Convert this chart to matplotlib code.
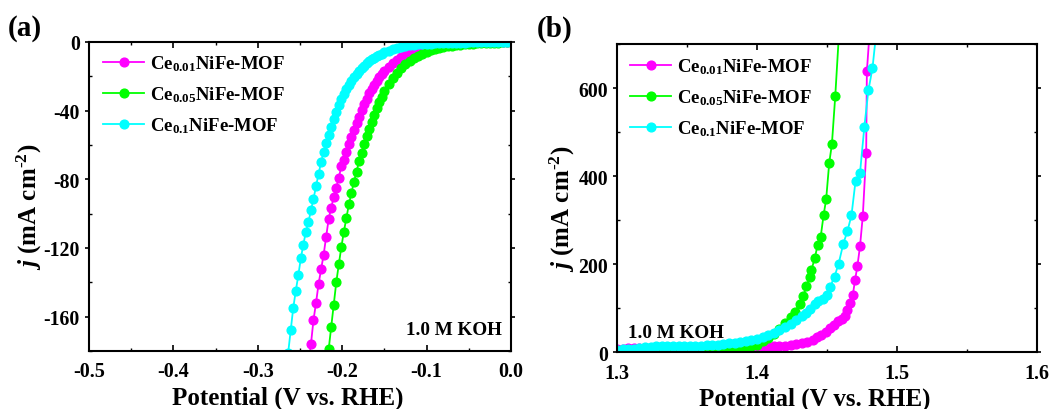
import matplotlib
matplotlib.use('Agg')
import matplotlib.pyplot as plt
from matplotlib.ticker import MultipleLocator, FormatStrFormatter

plt.rcParams['font.family'] = 'Liberation Serif'
plt.rcParams['font.weight'] = 'bold'
plt.rcParams['axes.labelweight'] = 'bold'
plt.rcParams['axes.unicode_minus'] = False
plt.rcParams['mathtext.fontset'] = 'custom'
plt.rcParams['mathtext.rm'] = 'Liberation Serif:bold'
plt.rcParams['mathtext.it'] = 'Liberation Serif:italic:bold'
plt.rcParams['mathtext.bf'] = 'Liberation Serif:bold'
plt.rcParams['mathtext.default'] = 'bf'

labels = [r'Ce$_{0.01}$NiFe-MOF', r'Ce$_{0.05}$NiFe-MOF', r'Ce$_{0.1}$NiFe-MOF']
colors = ['#FF00FF', '#00FF00', '#00FFFF']

# (a) HER polarisation, potential grid shared by the three curves (tail aligned)
E_her = [-0.267, -0.264, -0.261, -0.258, -0.255, -0.252, -0.249, -0.246, -0.243, -0.240,
         -0.237, -0.234, -0.231, -0.228, -0.225, -0.222, -0.219, -0.216, -0.213, -0.210,
         -0.207, -0.204, -0.201, -0.198, -0.195, -0.192, -0.189, -0.186, -0.183, -0.180,
         -0.177, -0.174, -0.171, -0.168, -0.165, -0.162, -0.159, -0.156, -0.153, -0.150,
         -0.145, -0.140, -0.135, -0.130, -0.125, -0.120, -0.115, -0.110, -0.105, -0.100,
         -0.095, -0.090, -0.085, -0.080, -0.075, -0.070, -0.065, -0.060, -0.055, -0.050,
         -0.045, -0.040, -0.035, -0.030, -0.025, -0.020, -0.015, -0.010, -0.005, 0.000]

j_her_001 = [-188, -176, -162, -152, -141, -132.5, -124, -113.5, -103, -96.5,
             -90.5, -84.8, -79, -72.5, -68.5, -64, -59.5, -55.5, -51, -47,
             -43.5, -39.8, -36.3, -33, -30, -27.3, -24.8, -22.5, -20.5, -18.6, -17,
             -14.3, -12.1, -10.3, -8.8, -7.3, -6.0, -4.9, -4.0, -3.2, -2.6,
             -2.1, -1.7, -1.35, -1.05, -0.85, -0.68, -0.55, -0.45, -0.37, -0.3,
             -0.25, -0.2, -0.17, -0.14, -0.12, -0.1, -0.08, -0.07, -0.06, -0.05]

j_her_005 = [-179, -166, -153, -140, -129.5, -119.5, -110.5, -102.5, -94.5, -87.8,
             -81.5, -75.5, -69.5, -64.5, -59.5, -55, -50.5, -46.5, -42.5, -38.5,
             -35, -31.8, -28.8,
             -24.5, -21, -17.8, -15.2, -13, -11, -9.4, -8, -6.8, -5.8,
             -4.8, -4.0, -3.4, -2.9, -2.5, -2.1, -1.8, -1.55, -1.3, -1.1,
             -0.95, -0.8, -0.68, -0.57, -0.48, -0.4, -0.33, -0.27, -0.22, -0.18]

j_her_01 = [-194, -181, -168, -155, -145, -136, -126, -118, -110.5, -105,
            -98, -91.5, -84, -77, -70, -64, -59, -54, -49.5, -45,
            -41, -37, -33.5, -30.5, -27.5, -25, -22.5, -20.5, -18.5, -16.8,
            -15.2, -13.8, -12.5, -11.3, -10.2, -9.2, -8.3, -7.5, -6.8, -6.1,
            -5.1, -4.2, -3.5, -2.9, -2.4, -2.0, -1.7, -1.45, -1.25, -1.1,
            -0.95, -0.85, -0.75, -0.65, -0.58, -0.5, -0.44, -0.38, -0.33, -0.29,
            -0.25, -0.21, -0.18, -0.15, -0.12, -0.1, -0.08, -0.06, -0.05, -0.04]

# (b) OER polarisation
E_oer_001 = [1.300, 1.304, 1.308, 1.312, 1.316, 1.320, 1.324, 1.328, 1.332, 1.336,
             1.340, 1.344, 1.348, 1.352, 1.356, 1.360, 1.364, 1.368, 1.372, 1.376,
             1.380, 1.384, 1.388, 1.392, 1.396, 1.400, 1.404, 1.408, 1.412, 1.416,
             1.420, 1.424, 1.428, 1.432, 1.436, 1.440,
             1.443, 1.446, 1.449, 1.452, 1.455, 1.458, 1.4605, 1.4630, 1.4645, 1.4662,
             1.4684, 1.4701, 1.4717, 1.4736, 1.4756, 1.4780, 1.4785, 1.4803]
j_oer_001 = [8.5, 8.6, 8.7, 8.8, 8.9, 9.0, 9.1, 9.2, 9.3, 9.4,
             9.5, 9.6, 9.7, 9.8, 9.9, 10.0, 10.1, 10.2, 10.3, 10.4,
             10.6, 10.8, 11.0, 11.2, 11.5, 11.8, 12.2, 12.7, 13.3, 14.0,
             15.0, 16.3, 18, 20.5, 24, 29,
             34, 40, 47, 55, 63, 70, 76, 83, 95, 111,
             129, 165, 195, 241, 310, 453, 638, 720]

E_oer_005 = [1.300, 1.304, 1.308, 1.312, 1.316, 1.320, 1.324, 1.328, 1.332, 1.336,
             1.340, 1.344, 1.348, 1.352, 1.356, 1.360, 1.364, 1.368, 1.372, 1.376,
             1.380, 1.384, 1.388, 1.392, 1.396, 1.400, 1.404, 1.408, 1.412, 1.416,
             1.420, 1.424, 1.427, 1.4305, 1.433, 1.4353, 1.4377, 1.4389, 1.4414, 1.4433,
             1.4455, 1.4476, 1.4494, 1.4516, 1.4535, 1.4559, 1.4585]
j_oer_005 = [2.4, 2.4, 2.5, 2.5, 2.6, 2.6, 2.7, 2.7, 2.8, 2.9,
             3.0, 3.1, 3.2, 3.4, 3.6, 3.9, 4.3, 4.8, 5.4, 6.2,
             7.2, 8.5, 10, 12, 14.5, 17.5, 25, 33, 42, 53,
             66, 80, 92, 110, 127, 150, 170, 187, 215, 244,
             262, 312, 347, 430, 472, 581, 720]

E_oer_01 = [1.300, 1.304, 1.308, 1.312, 1.316, 1.320, 1.324, 1.328, 1.332, 1.336,
            1.340, 1.344, 1.348, 1.352, 1.356, 1.360, 1.364, 1.368, 1.372, 1.376,
            1.380, 1.384, 1.388, 1.392, 1.396, 1.400, 1.404, 1.408, 1.412, 1.416,
            1.420, 1.424, 1.428, 1.432,
            1.435, 1.438, 1.4414, 1.4438, 1.447, 1.4499, 1.4523, 1.4554, 1.4583, 1.4617,
            1.4646, 1.4675, 1.4704, 1.4736, 1.4767, 1.4796, 1.4825, 1.4850]
j_oer_01 = [6.0, 6.5, 7.2, 8.2, 9.5, 11, 12.5, 13.8, 14.8, 15.2,
            15.0, 14.5, 14.2, 14.2, 14.5, 15.0, 15.7, 16.5, 17.5, 18.6,
            20, 21.5, 23.5, 25.5, 28, 31, 34.5, 39, 44, 50,
            57, 65, 74, 82,
            90, 98, 110, 117, 122, 130, 149, 172, 201, 247,
            275, 311, 389, 407, 512, 595, 645, 720]


def style_axes(ax):
    for s in ax.spines.values():
        s.set_linewidth(1.5)
    ax.tick_params(axis='x', which='both', direction='in', top=True, labelsize=14.5, pad=7.5)
    ax.tick_params(axis='x', which='major', length=4, width=1.2)
    ax.tick_params(axis='x', which='minor', length=2.5, width=1)
    ax.tick_params(axis='y', which='major', direction='out', right=True, length=3,
                   width=1.2, labelsize=14.2, pad=3.5)
    ax.tick_params(axis='y', which='minor', direction='in', right=True, length=2.5, width=1)
    ax.xaxis.set_major_formatter(FormatStrFormatter('%.1f'))
    ax.set_xlabel('Potential (V vs. RHE)', fontsize=18)
    ax.set_ylabel(r'$\mathit{j}$ (mA cm$^{\text{-2}}$)', fontsize=18)
    ax.xaxis.label.set_va('center')
    ax.yaxis.label.set_va('center')


fig = plt.figure(figsize=(10.52, 4.10), dpi=100)
ax1 = fig.add_axes([0.0846, 0.1415, 0.4011, 0.7537])
ax2 = fig.add_axes([0.5865, 0.1383, 0.3992, 0.752])

for j, c, lab in zip([j_her_001, j_her_005, j_her_01], colors, labels):
    ax1.plot(E_her[-len(j):], j, '-o', color=c, lw=1.3, ms=6.3, label=lab)
ax1.set_xlim(-0.5, 0.0)
ax1.set_ylim(-180, 0)
ax1.xaxis.set_major_locator(MultipleLocator(0.1))
ax1.xaxis.set_minor_locator(MultipleLocator(0.05))
ax1.yaxis.set_major_locator(MultipleLocator(40))
ax1.yaxis.set_minor_locator(MultipleLocator(20))
style_axes(ax1)
ax1.xaxis.set_label_coords(0.47, -0.15)
ax1.yaxis.set_label_coords(-0.142, 0.47)
ax1.legend(loc='upper left', bbox_to_anchor=(0.033, 0.962), frameon=False, fontsize=13.5,
           handlelength=2.2, handletextpad=0.3, labelspacing=0.6, borderaxespad=0, borderpad=0)
ax1.text(0.979, 0.068, '1.0 M KOH', transform=ax1.transAxes, ha='right', va='center', fontsize=13.8)

for E, j, c, lab in zip([E_oer_001, E_oer_005, E_oer_01], [j_oer_001, j_oer_005, j_oer_01],
                        colors, labels):
    ax2.plot(E, j, '-o', color=c, lw=1.3, ms=6.3, label=lab)
ax2.set_xlim(1.3, 1.6)
ax2.set_ylim(0, 700)
ax2.xaxis.set_major_locator(MultipleLocator(0.1))
ax2.xaxis.set_minor_locator(MultipleLocator(0.05))
ax2.yaxis.set_major_locator(MultipleLocator(200))
ax2.yaxis.set_minor_locator(MultipleLocator(100))
style_axes(ax2)
ax2.xaxis.set_label_coords(0.471, -0.15)
ax2.yaxis.set_label_coords(-0.131, 0.47)
ax2.legend(loc='upper left', bbox_to_anchor=(0.031, 0.959), frameon=False, fontsize=13.5,
           handlelength=2.2, handletextpad=0.3, labelspacing=0.6, borderaxespad=0, borderpad=0)
ax2.text(0.026, 0.065, '1.0 M KOH', transform=ax2.transAxes, ha='left', va='center', fontsize=13.8)

fig.text(8 / 1052, 1 - 29 / 410, '(a)', fontsize=21, ha='left', va='center')
fig.text(537 / 1052, 1 - 29 / 410, '(b)', fontsize=21, ha='left', va='center')

fig.savefig('out.png', dpi=100)
